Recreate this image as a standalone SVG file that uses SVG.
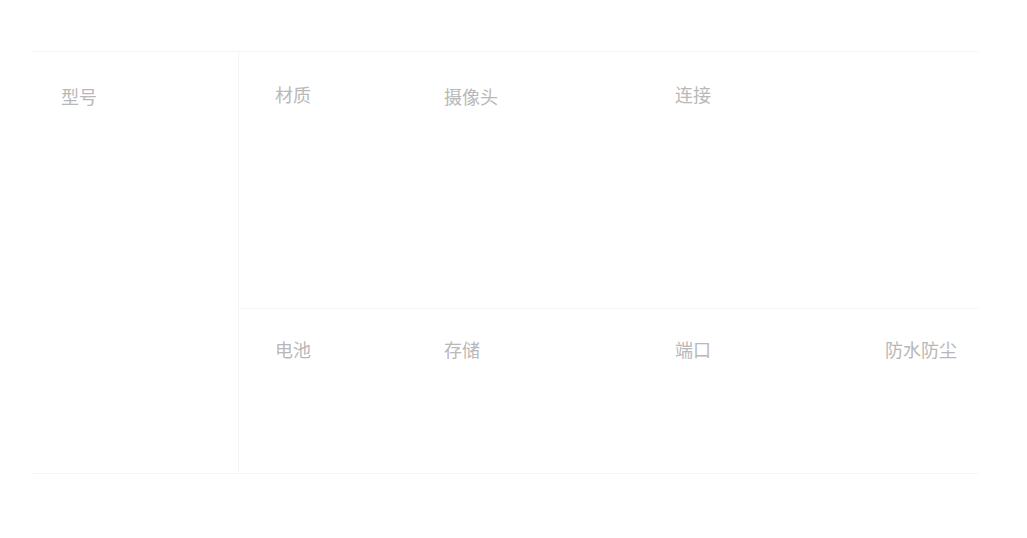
<svg xmlns="http://www.w3.org/2000/svg" width="1027" height="538" viewBox="0 0 1027 538">
<style>
.l{stroke:#f5f5f5;stroke-width:1;fill:none}
.t{font-family:"Noto Sans CJK SC","Liberation Sans",sans-serif;font-size:18px;fill:#b8b8b8}
</style>
<rect width="1027" height="538" fill="#ffffff"/>
<g id="connectors">
<line class="l" x1="32" y1="51.5" x2="979" y2="51.5"/>
<line class="l" x1="238.5" y1="52" x2="238.5" y2="473"/>
<line class="l" x1="239" y1="308.5" x2="979" y2="308.5"/>
<line class="l" x1="32" y1="473.5" x2="979" y2="473.5"/>
</g>
<g id="n-model"><text class="t" x="61" y="104">型号</text></g>
<g id="n-material"><text class="t" x="275" y="102">材质</text></g>
<g id="n-camera"><text class="t" x="444" y="104">摄像头</text></g>
<g id="n-connect"><text class="t" x="675" y="102">连接</text></g>
<g id="n-battery"><text class="t" x="275" y="357">电池</text></g>
<g id="n-storage"><text class="t" x="444" y="357">存储</text></g>
<g id="n-port"><text class="t" x="675" y="357">端口</text></g>
<g id="n-waterproof"><text class="t" x="885" y="357">防水防尘</text></g>
</svg>
